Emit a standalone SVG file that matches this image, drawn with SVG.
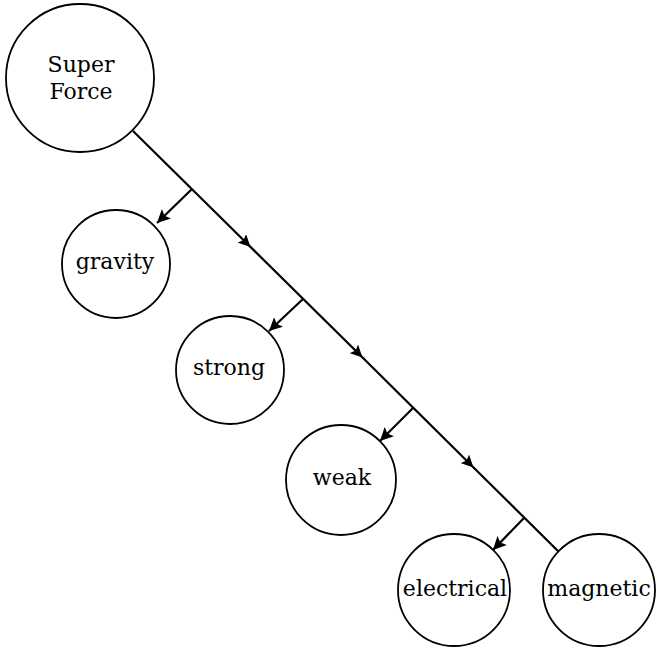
<svg xmlns="http://www.w3.org/2000/svg" width="656" height="651" viewBox="0 0 656 651">
<defs>
<marker id="ah" viewBox="0 0 10 10" refX="10" refY="5" markerWidth="6" markerHeight="6" orient="auto" markerUnits="strokeWidth">
<path d="M0,0 L10,5 L0,10 L2,5 Z" fill="#000"/>
</marker>
<marker id="mid" viewBox="0 0 10 10" refX="6" refY="5" markerWidth="5.5" markerHeight="5.5" orient="auto" markerUnits="strokeWidth">
<path d="M0,0 L10,5 L0,10 L2,5 Z" fill="#000"/>
</marker>
</defs>
<style>
.node circle{fill:#fff;stroke:#000;stroke-width:1.8}
.node text{font-family:"DejaVu Serif","Liberation Serif",serif;font-size:22px;text-anchor:middle;fill:#000}
.conn{fill:none;stroke:#000;stroke-width:2.2}
</style>
<rect width="656" height="651" fill="#fff"/>
<g id="connectors">
<path class="conn" d="M133,131 L247,243.5 L359,354 L470,464 L560,553" marker-mid="url(#mid)"/>
<path class="conn" d="M192,189 L157,223" marker-end="url(#ah)"/>
<path class="conn" d="M303,299 L269,331" marker-end="url(#ah)"/>
<path class="conn" d="M413,408 L380,441" marker-end="url(#ah)"/>
<path class="conn" d="M524,518 L493,550" marker-end="url(#ah)"/>
</g>
<g id="superforce" class="node">
<circle cx="80" cy="78" r="74"/>
<text x="81" y="72">Super</text>
<text x="81" y="99">Force</text>
</g>
<g id="gravity" class="node">
<circle cx="116" cy="264" r="54"/>
<text x="115" y="269">gravity</text>
</g>
<g id="strong" class="node">
<circle cx="230" cy="370" r="54"/>
<text x="229" y="375">strong</text>
</g>
<g id="weak" class="node">
<circle cx="341" cy="480" r="55"/>
<text x="342" y="485">weak</text>
</g>
<g id="electrical" class="node">
<circle cx="454" cy="590" r="56"/>
<text x="455" y="596">electrical</text>
</g>
<g id="magnetic" class="node">
<circle cx="599" cy="590" r="56"/>
<text x="599" y="596">magnetic</text>
</g>
</svg>
